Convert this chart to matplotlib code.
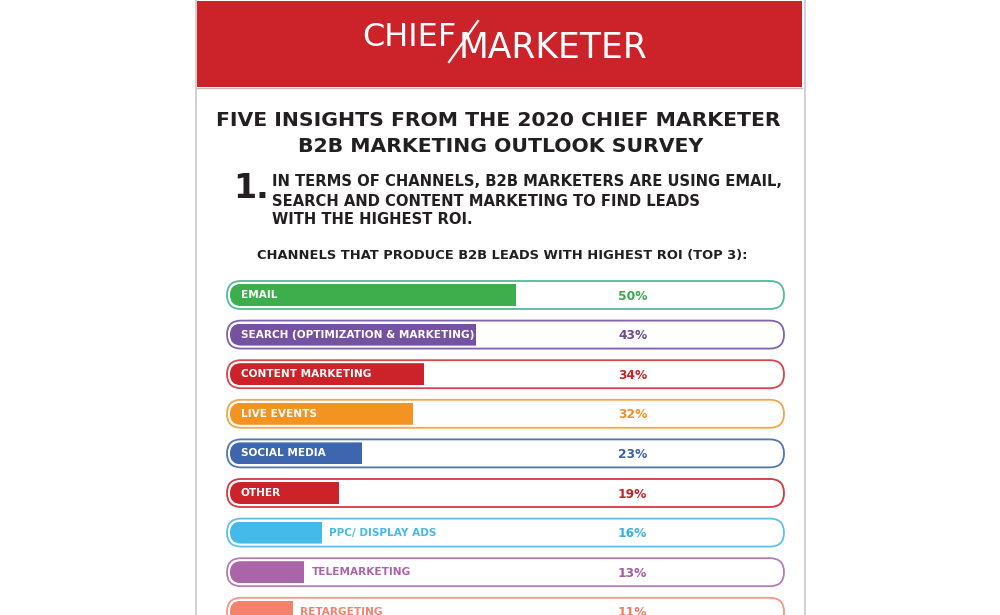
import matplotlib.pyplot as plt
from matplotlib.patches import FancyBboxPatch, Rectangle

# ===== DATA =====
channels = [
    "EMAIL",
    "SEARCH (OPTIMIZATION & MARKETING)",
    "CONTENT MARKETING",
    "LIVE EVENTS",
    "SOCIAL MEDIA",
    "OTHER",
    "PPC/ DISPLAY ADS",
    "TELEMARKETING",
    "RETARGETING",
]
shares = [50, 43, 34, 32, 23, 19, 16, 13, 11]
bar_colors = ["#3dae4b", "#7451a1", "#cc2229", "#f39322", "#3e66ae",
              "#cc2229", "#45b9e8", "#aa64a8", "#f4816c"]
edge_colors = ["#52bb97", "#7f62ab", "#d6464c", "#f4a44a", "#5175b5",
               "#d13a40", "#5cc1ea", "#b47db2", "#f59585"]
value_colors = ["#3ea64a", "#6a4c97", "#c4252b", "#f08f24", "#3a63a8",
                "#c4252b", "#3eb0e0", "#a15ea0", "#f07a63"]
label_inside = [True, True, True, True, True, True, False, False, False]

title_lines = ["FIVE INSIGHTS FROM THE 2020 CHIEF MARKETER",
               "B2B MARKETING OUTLOOK SURVEY"]
insight_lines = ["IN TERMS OF CHANNELS, B2B MARKETERS ARE USING EMAIL,",
                 "SEARCH AND CONTENT MARKETING TO FIND LEADS",
                 "WITH THE HIGHEST ROI."]
chart_title = "CHANNELS THAT PRODUCE B2B LEADS WITH HIGHEST ROI (TOP 3):"

DARK = "#231f20"
RED = "#cc2229"
FONT = "DejaVu Sans"

fig = plt.figure(figsize=(10, 6.15), dpi=100)

# ===== PAGE / HEADER (pixel space) =====
deco = fig.add_axes([0, 0, 1, 1])
deco.set_xlim(0, 1000)
deco.set_ylim(615, 0)
deco.axis("off")

deco.plot([195.5, 195.5], [0, 615], color="#c8c8c8", lw=1.2)
deco.plot([804.5, 804.5], [0, 615], color="#c8c8c8", lw=1.2)
deco.add_patch(Rectangle((197, 1), 605, 86, color=RED, lw=0))
deco.plot([197, 802], [88, 88], color="#bdbdbd", lw=1)

deco.text(362, 37, "CHIEF", color="white", fontsize=23, family=FONT,
          ha="left", va="center")
deco.plot([449, 478], [62, 21], color="white", lw=1.6)
deco.text(459, 48, "MARKETER", color="white", fontsize=24.9, family=FONT,
          ha="left", va="center")

deco.text(498, 121, title_lines[0], color=DARK, fontsize=14.7, weight="bold",
          family=FONT, ha="center", va="center")
deco.text(501, 147, title_lines[1], color=DARK, fontsize=14.7, weight="bold",
          family=FONT, ha="center", va="center")

deco.text(233, 188, "1.", color=DARK, fontsize=24, weight="bold",
          family=FONT, ha="left", va="center")
for i, line in enumerate(insight_lines):
    deco.text(272, 182 + i * 19, line, color=DARK, fontsize=10.6,
              weight="bold", family=FONT, ha="left", va="center")

deco.text(502, 255, chart_title, color=DARK, fontsize=9.4, weight="bold",
          family=FONT, ha="center", va="center")

# ===== BAR CHART =====
# 0% sits at pixel 230, one percent ~5.72 px; rows ~39.6 px apart
ax = fig.add_axes([0.22, 0.0, 0.58, 345 / 615])
ax.set_xlim(-10 / 5.72, 570 / 5.72)
ax.set_ylim(8.081, -0.631)
ax.axis("off")

px_x = 5.72
px_y = 39.6
aspect = px_x / px_y
rows = list(range(len(channels)))

for i in rows:
    track = FancyBboxPatch((-3 / px_x, i - 14 / px_y), 557 / px_x, 28 / px_y,
                           boxstyle=f"round,pad=0,rounding_size={14 / px_x}",
                           mutation_aspect=aspect, fc="white",
                           ec=edge_colors[i], lw=1.3, clip_on=False)
    ax.add_patch(track)

bars = ax.barh(rows, shares, height=22 / px_y, left=0, color=bar_colors,
               zorder=3)
for i, bar in enumerate(bars):
    inner = FancyBboxPatch((0, i - 11 / px_y), 551 / px_x, 22 / px_y,
                           boxstyle=f"round,pad=0,rounding_size={11 / px_x}",
                           mutation_aspect=aspect, transform=ax.transData)
    bar.set_clip_path(inner)

for i in rows:
    if label_inside[i]:
        ax.text(1.9, i, channels[i], color="white", fontsize=7.6,
                weight="bold", family=FONT, ha="left", va="center", zorder=4)
    else:
        ax.text(shares[i] + 1.3, i, channels[i], color=bar_colors[i],
                fontsize=7.6, weight="bold", family=FONT, ha="left",
                va="center", zorder=4)
    ax.text(70.4, i + 0.03, f"{shares[i]}%", color=value_colors[i],
            fontsize=8.8, weight="bold", family=FONT, ha="center",
            va="center", zorder=4)

fig.savefig("out.png", dpi=100, facecolor="white")
